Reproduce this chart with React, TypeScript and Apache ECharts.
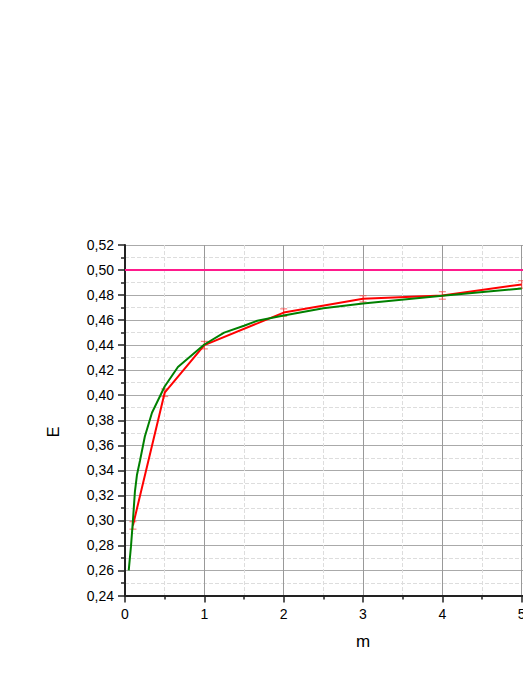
import React, { useEffect, useRef } from "react";
import * as echarts from "echarts";

const expM = [0.1, 0.5, 1, 2, 3, 4, 5];
const expE = [0.296, 0.402, 0.44, 0.466, 0.477, 0.4797, 0.4885];
const expErr = [0.003, 0.003, 0.003, 0.003, 0.0025, 0.003, 0.003];

const theoM = [0.047, 0.075, 0.1, 0.125, 0.15, 0.19, 0.25, 0.34, 0.5, 0.667, 1, 1.25, 1.5, 1.667, 2, 2.5, 3, 4, 5];
const theoE = [0.26, 0.279, 0.3, 0.323, 0.336, 0.348, 0.367, 0.386, 0.407, 0.4225, 0.4405, 0.45, 0.4555, 0.4595, 0.4637, 0.4695, 0.4733, 0.4794, 0.4853];

const limitE = 0.5;
const xRange = [0, 6];

export default function App() {
  const ref = useRef<HTMLDivElement>(null);
  useEffect(() => {
    if (!ref.current) return;
    const chart = echarts.init(ref.current, null, { renderer: "svg" });
    const font = "Liberation Sans, Arial, sans-serif";
    chart.setOption({
      animation: false,
      grid: { left: 125, right: -78, top: 245, bottom: 81.5, containLabel: false, outerBoundsMode: "none" },
      graphic: [
        {
          type: "text",
          x: 53,
          y: 432,
          rotation: Math.PI / 2,
          style: { text: "E", fill: "#000", fontSize: 16, fontFamily: font, align: "center", verticalAlign: "middle" },
        },
      ],
      xAxis: {
        type: "value",
        min: xRange[0],
        max: xRange[1],
        interval: 1,
        name: "m",
        nameLocation: "middle",
        nameGap: 37,
        nameTextStyle: { color: "#000", fontSize: 17, fontFamily: font },
        axisLine: { show: true, onZero: false, lineStyle: { color: "#222", width: 2 } },
        axisTick: { show: true, length: 7, lineStyle: { color: "#222", width: 1.5 } },
        minorTick: { show: true, splitNumber: 2, length: 4, lineStyle: { color: "#222", width: 1.5 } },
        axisLabel: { color: "#000", fontSize: 14, fontFamily: font, margin: 11 },
        splitLine: { show: true, lineStyle: { color: "#999", width: 1 } },
        minorSplitLine: { show: true, lineStyle: { color: "#ddd", width: 1, type: "dashed" } },
      },
      yAxis: {
        type: "value",
        min: 0.24,
        max: 0.52,
        interval: 0.02,
        axisLine: { show: true, onZero: false, lineStyle: { color: "#222", width: 2 } },
        axisTick: { show: true, length: 7, lineStyle: { color: "#222", width: 1.5 } },
        minorTick: { show: true, splitNumber: 2, length: 4, lineStyle: { color: "#222", width: 1.5 } },
        axisLabel: {
          color: "#000",
          fontSize: 14,
          fontFamily: font,
          margin: 11,
          formatter: (v: number) => v.toFixed(2).replace(".", ","),
        },
        splitLine: { show: true, lineStyle: { color: "#aaa", width: 1 } },
        minorSplitLine: { show: true, lineStyle: { color: "#ddd", width: 1, type: "dashed" } },
      },
      series: [
        {
          type: "line",
          data: xRange.map((x) => [x, limitE]),
          symbol: "none",
          lineStyle: { color: "#ff1a8c", width: 2 },
          z: 3,
        },
        {
          type: "custom",
          data: expM.map((m, i) => [m, expE[i] - expErr[i], expE[i] + expErr[i]]),
          renderItem: (params: any, api: any) => {
            const lo = api.coord([api.value(0), api.value(1)]);
            const hi = api.coord([api.value(0), api.value(2)]);
            const w = 3.5;
            const style = { stroke: "rgba(255,60,60,0.65)", lineWidth: 1.2 };
            return {
              type: "group",
              children: [
                { type: "line", shape: { x1: lo[0], y1: lo[1], x2: hi[0], y2: hi[1] }, style },
                { type: "line", shape: { x1: lo[0] - w, y1: lo[1], x2: lo[0] + w, y2: lo[1] }, style },
                { type: "line", shape: { x1: hi[0] - w, y1: hi[1], x2: hi[0] + w, y2: hi[1] }, style },
              ],
            };
          },
          z: 4,
        },
        {
          type: "line",
          data: expM.map((m, i) => [m, expE[i]]),
          symbol: "none",
          lineStyle: { color: "#ff0000", width: 2 },
          z: 5,
        },
        {
          type: "line",
          data: theoM.map((m, i) => [m, theoE[i]]),
          symbol: "none",
          lineStyle: { color: "#008000", width: 2 },
          z: 5,
        },
      ],
    });
    return () => chart.dispose();
  }, []);
  return <div ref={ref} style={{ position: "absolute", left: 0, top: 0, width: 523, height: 677 }} />;
}
